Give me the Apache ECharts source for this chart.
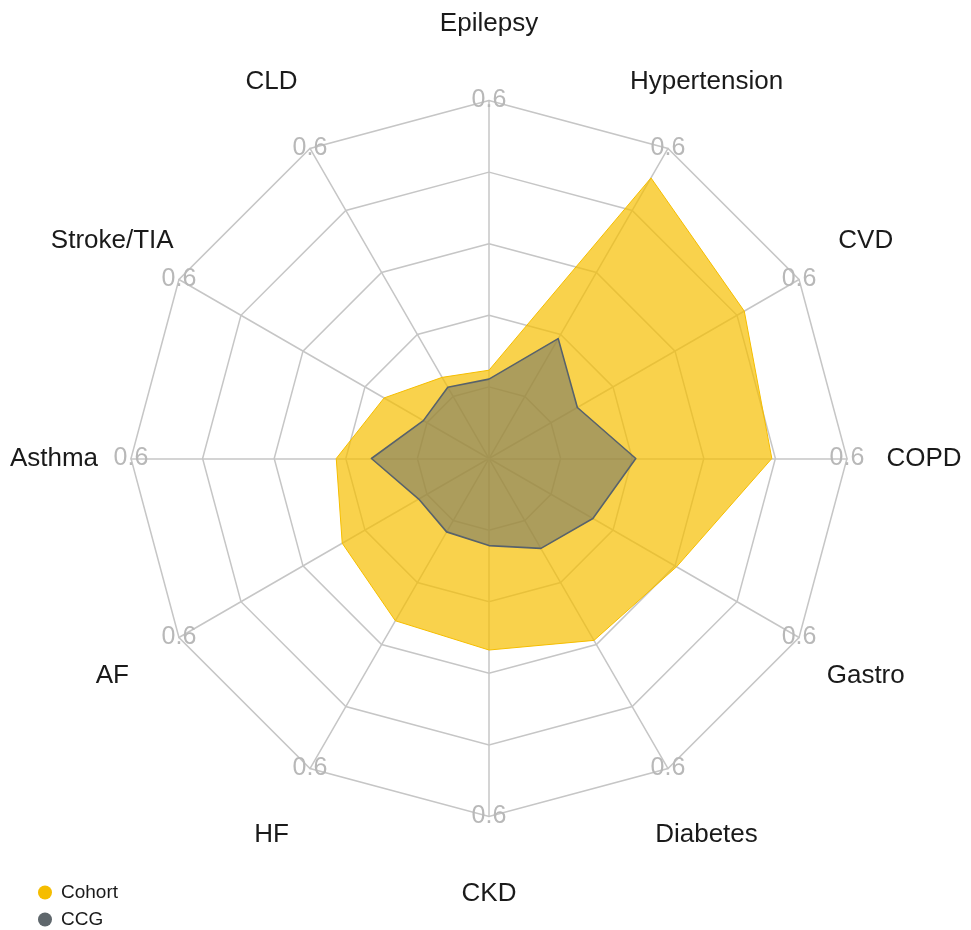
<!DOCTYPE html>
<html>
<head>
<meta charset="utf-8">
<script src="https://cdn.jsdelivr.net/npm/echarts@6/dist/echarts.min.js"></script>
<style>
html,body{margin:0;padding:0;background:#fff;}
#chart{width:971px;height:930px;}
</style>
</head>
<body>
<div id="chart"></div>
<script>
// Categories in clockwise order starting from the top
var categories = ['Epilepsy','Hypertension','CVD','COPD','Gastro','Diabetes','CKD','HF','AF','Asthma','Stroke/TIA','CLD'];
var cohortValues = [0.148,0.543,0.494,0.474,0.363,0.352,0.321,0.314,0.284,0.256,0.203,0.157];
var ccgValues    = [0.133,0.232,0.171,0.246,0.201,0.174,0.146,0.142,0.136,0.197,0.127,0.138];
var seriesNames = ['Cohort','CCG'];
var axisMax = 0.6;
var axisMaxLabel = '0.6';

// ECharts places radar indicators counter-clockwise; reorder to draw them clockwise
var order = [0];
for (var i = categories.length - 1; i >= 1; i--) order.push(i);
function reorder(arr){ return order.map(function(k){ return arr[k]; }); }

var chart = echarts.init(document.getElementById('chart'), null, {renderer:'canvas'});
var font = "'Liberation Sans', Arial, sans-serif";
chart.setOption({
  backgroundColor: '#ffffff',
  animation: false,
  legend: {
    orient: 'vertical',
    left: 33,
    top: 878,
    height: 70,
    padding: 5,
    itemWidth: 14,
    itemHeight: 14,
    itemGap: 8,
    icon: 'circle',
    data: seriesNames,
    textStyle: {fontFamily: font, fontSize: 19, color: '#1a1a1a', padding: [0,0,0,4]}
  },
  radar: {
    center: [489, 458.5],
    radius: 358,
    startAngle: 90,
    shape: 'polygon',
    splitNumber: 5,
    indicator: reorder(categories).map(function(c){ return {name: c, min: 0, max: axisMax}; }),
    nameGap: 77,
    axisName: {
      color: '#1a1a1a',
      fontFamily: font,
      fontSize: 26,
      align: 'center',
      verticalAlign: 'middle'
    },
    axisLine: {show: true, lineStyle: {color: '#c6c6c6', width: 1.5}},
    splitLine: {show: true, lineStyle: {color: '#c6c6c6', width: 1.5}},
    splitArea: {show: false},
    axisTick: {show: false},
    axisLabel: {
      show: true,
      margin: 0,
      color: '#b8b8b8',
      fontFamily: font,
      fontSize: 25,
      align: 'center',
      verticalAlign: 'middle',
      formatter: function(v){ return Math.abs(v - axisMax) < 1e-6 ? axisMaxLabel : ''; }
    }
  },
  series: [
    {
      type: 'radar',
      name: seriesNames[0],
      symbol: 'none',
      z: 2,
      itemStyle: {color: '#F5BD00'},
      lineStyle: {color: '#F5BD00', width: 1},
      areaStyle: {color: '#F7BF00', opacity: 0.7},
      data: [{value: reorder(cohortValues), name: seriesNames[0]}]
    },
    {
      type: 'radar',
      name: seriesNames[1],
      symbol: 'none',
      z: 3,
      itemStyle: {color: '#5F676C'},
      lineStyle: {color: '#56616B', width: 1.6},
      areaStyle: {color: '#5F676C', opacity: 0.5},
      data: [{value: reorder(ccgValues), name: seriesNames[1]}]
    }
  ]
});
</script>
</body>
</html>
